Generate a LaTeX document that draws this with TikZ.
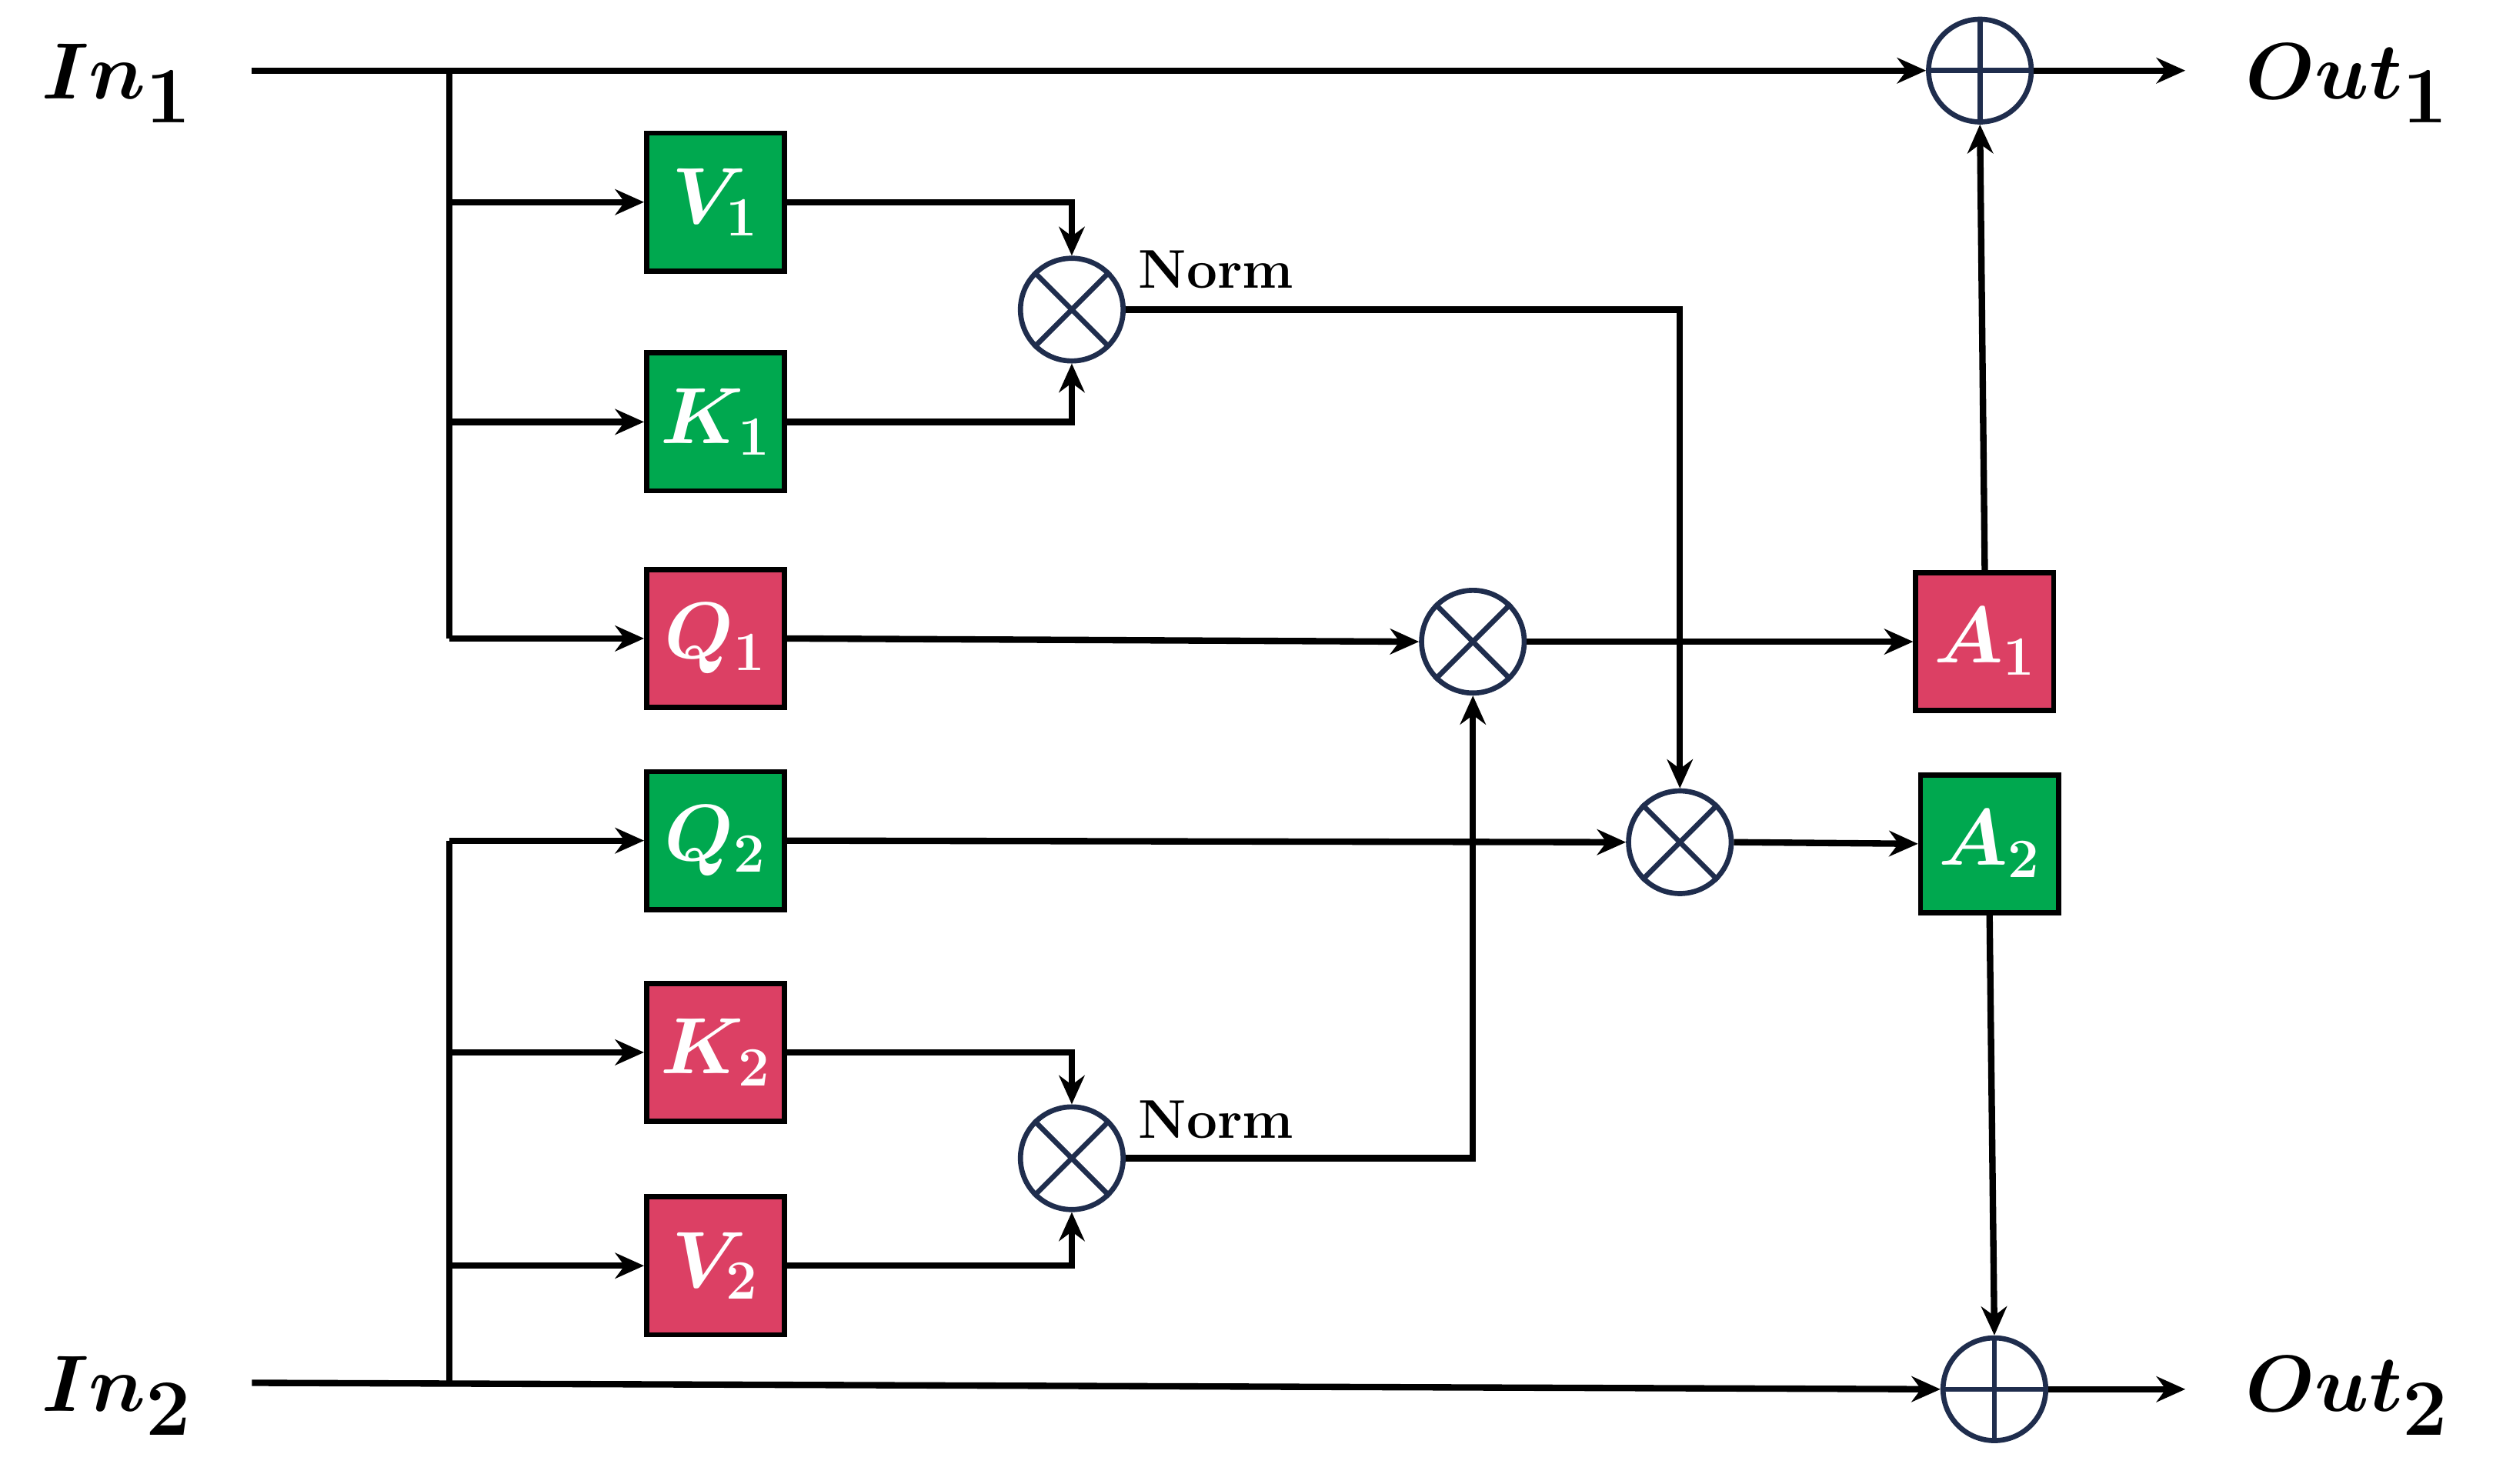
\documentclass[tikz,border=0pt]{standalone}
\usepackage{bm}
\usetikzlibrary{arrows.meta}
\definecolor{gbox}{HTML}{00A84F}
\definecolor{rbox}{HTML}{DC4064}
\definecolor{cnav}{HTML}{1F2D4D}
\begin{document}
\begin{tikzpicture}[x=0.5pt,y=-0.5pt,
  box/.style={draw=black,line width=1.6pt,minimum width=43pt,minimum height=43pt,inner sep=0pt,text=white,font=\fontsize{26}{30}\selectfont},
  op/.style={circle,draw=cnav,line width=1.6pt,minimum size=32pt,inner sep=0pt},
  ln/.style={line width=2pt,-{Stealth[length=9pt,width=8pt]}},
  big/.style={font=\fontsize{44}{50}\selectfont},
  nm/.style={font=\fontsize{17}{20}\selectfont\bfseries}]
\useasboundingbox (0,0) rectangle (1560,925);
\node[big] (in1) at (73,52) {$\bm{In_1}$};
\node[big] (in2) at (73,870) {$\bm{In_2}$};
\node[big] (out1) at (1463,52) {$\bm{Out_1}$};
\node[big] (out2) at (1463,870) {$\bm{Out_2}$};
\node[box,fill=gbox] (v1) at (446,126) {$\bm{V_1}$};
\node[box,fill=gbox] (k1) at (446,263) {$\bm{K_1}$};
\node[box,fill=rbox] (q1) at (446,398) {$\bm{Q_1}$};
\node[box,fill=gbox] (q2) at (446,524) {$\bm{Q_2}$};
\node[box,fill=rbox] (k2) at (446,656) {$\bm{K_2}$};
\node[box,fill=rbox] (v2) at (446,789) {$\bm{V_2}$};
\node[box,fill=rbox] (a1) at (1237,400) {$\bm{A_1}$};
\node[box,fill=gbox] (a2) at (1240,526) {$\bm{A_2}$};
\foreach \n/\x/\y in {m1/668/193,m2/918/400,m3/1047/525,m4/668/722}{
  \node[op] (\n) at (\x,\y) {};
  \draw[cnav,line width=1.6pt] (\n.north west) -- (\n.south east) (\n.north east) -- (\n.south west);}
\foreach \n/\x/\y in {p1/1234/44,p2/1243/866}{
  \node[op] (\n) at (\x,\y) {};
  \draw[cnav,line width=1.6pt] (\n.north) -- (\n.south) (\n.east) -- (\n.west);}
\node[nm] (n1) at (758,168) {Norm};
\node[nm] (n2) at (758,698) {Norm};
\coordinate (s1) at (157,44);
\coordinate (s2) at (157,862);
\coordinate (b1) at (280,44);
\coordinate (b2) at (280,862);
\draw[ln] (s1) -- (p1.west);
\draw[ln] (s2) -- (p2.west);
\draw[line width=2pt] (b1) -- (280,398);
\draw[line width=2pt] (b2) -- (280,524);
\draw[ln] (280,126) -- (v1.west);
\draw[ln] (280,263) -- (k1.west);
\draw[ln] (280,398) -- (q1.west);
\draw[ln] (280,524) -- (q2.west);
\draw[ln] (280,656) -- (k2.west);
\draw[ln] (280,789) -- (v2.west);
\draw[ln] (v1.east) -| (m1.north);
\draw[ln] (k1.east) -| (m1.south);
\draw[ln] (k2.east) -| (m4.north);
\draw[ln] (v2.east) -| (m4.south);
\draw[ln] (m1.east) -| (m3.north);
\draw[ln] (m4.east) -| (m2.south);
\draw[ln] (q1.east) -- (m2.west);
\draw[ln] (m2.east) -- (a1.west);
\draw[ln] (q2.east) -- (m3.west);
\draw[ln] (m3.east) -- (a2.west);
\draw[ln] (a1.north) -- (p1.south);
\draw[ln] (a2.south) -- (p2.north);
\draw[ln] (p1.east) -- (1362,44);
\draw[ln] (p2.east) -- (1362,866);
\end{tikzpicture}
\end{document}
